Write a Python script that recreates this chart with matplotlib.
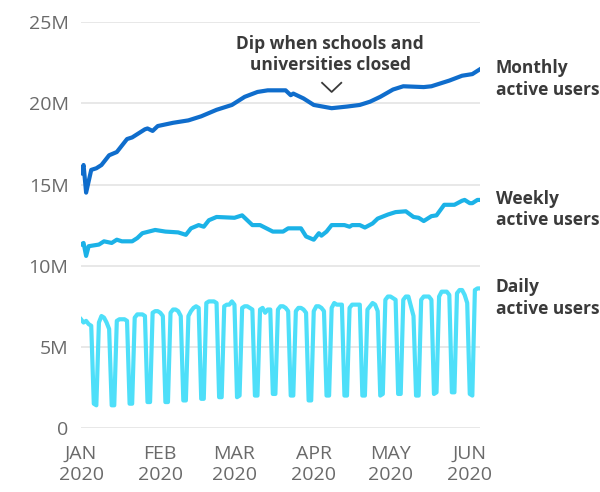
import matplotlib
matplotlib.use('Agg')
import matplotlib.pyplot as plt
import numpy as np
import pandas as pd

start = pd.Timestamp('2020-01-01')

# daily active users (millions), one row per week: 5 weekdays then weekend
daily_users = [
    6.7, 6.5, 6.6, 6.4, 6.3, 1.5, 1.4,
    6.5, 6.9, 6.8, 6.5, 6.1, 1.4, 1.4,
    6.6, 6.7, 6.7, 6.7, 6.6, 1.5, 1.5,
    6.8, 7.0, 7.0, 7.0, 6.9, 1.6, 1.6,
    7.1, 7.2, 7.2, 7.1, 6.9, 1.6, 1.6,
    7.1, 7.3, 7.3, 7.2, 6.9, 1.7, 1.7,
    6.9, 7.2, 7.4, 7.5, 7.4, 1.8, 1.8,
    7.7, 7.8, 7.8, 7.8, 7.7, 1.9, 1.9,
    7.5, 7.6, 7.6, 7.8, 7.6, 1.9, 2.0,
    7.4, 7.5, 7.5, 7.4, 7.3, 2.0, 2.0,
    7.3, 7.4, 7.1, 7.3, 7.3, 2.1, 2.1,
    7.3, 7.5, 7.5, 7.4, 7.2, 2.0, 2.0,
    7.2, 7.4, 7.4, 7.3, 7.1, 1.7, 1.7,
    7.2, 7.5, 7.5, 7.4, 7.2, 2.0, 2.0,
    7.4, 7.7, 7.6, 7.6, 7.6, 2.0, 2.0,
    7.4, 7.6, 7.6, 7.6, 7.6, 2.0, 2.0,
    7.3, 7.5, 7.7, 7.6, 7.2, 2.0, 2.1,
    7.9, 8.1, 8.1, 8.0, 7.9, 2.1, 2.1,
    7.9, 8.1, 8.1, 7.5, 6.9, 2.0, 2.0,
    7.9, 8.1, 8.1, 8.1, 7.9, 2.1, 2.2,
    8.1, 8.4, 8.4, 8.4, 8.2, 2.2, 2.2,
    8.3, 8.5, 8.5, 8.2, 7.7, 2.1, 2.0,
    8.5, 8.6, 8.6,
]

# weekly active users (millions) at day offsets from Jan 1
weekly_days = [0, 1, 2, 3, 7, 9, 12, 14, 16, 20, 22, 24, 29, 33, 38, 41, 43, 46, 48,
               50, 53, 60, 63, 67, 70, 75, 79, 81, 86, 88, 91, 93, 94, 96, 98, 103,
               105, 106, 109, 111, 114, 116, 120, 123, 127, 130, 132, 134, 137, 139,
               142, 146, 149, 150, 152, 153, 155, 156]
weekly_users = [11.3, 11.4, 10.6, 11.2, 11.3, 11.5, 11.4, 11.6, 11.5, 11.5, 11.7, 12.0,
                12.2, 12.1, 12.05, 11.9, 12.3, 12.5, 12.4, 12.8, 13.0, 12.95, 13.1,
                12.5, 12.5, 12.1, 12.1, 12.3, 12.3, 11.8, 11.6, 12.0, 11.85, 12.1,
                12.5, 12.5, 12.4, 12.5, 12.5, 12.35, 12.6, 12.9, 13.15, 13.3, 13.35,
                13.0, 12.95, 12.75, 13.05, 13.1, 13.75, 13.75, 14.0, 14.05, 13.85,
                13.85, 14.05, 14.05]

# monthly active users (millions) at day offsets from Jan 1
monthly_days = [0, 1, 2, 4, 6, 8, 11, 14, 18, 20, 25, 26, 28, 30, 36, 42, 47, 53, 59,
                64, 69, 73, 80, 82, 83, 87, 91, 98, 104, 109, 113, 117, 122, 126, 134,
                137, 144, 149, 153, 156]
monthly_users = [15.7, 16.2, 14.5, 15.9, 16.0, 16.2, 16.8, 17.0, 17.8, 17.9, 18.4,
                 18.45, 18.3, 18.6, 18.8, 18.95, 19.2, 19.6, 19.9, 20.4, 20.7, 20.8,
                 20.8, 20.5, 20.6, 20.3, 19.9, 19.7, 19.8, 19.9, 20.1, 20.4, 20.85,
                 21.05, 21.0, 21.05, 21.4, 21.7, 21.8, 22.1]

y_ticks = [0, 5, 10, 15, 20, 25]
y_labels = ['0', '5M', '10M', '15M', '20M', '25M']
month_starts = ['2020-01-01', '2020-02-01', '2020-03-01', '2020-04-01',
                '2020-05-01', '2020-06-01']
month_labels = ['JAN\n2020', 'FEB\n2020', 'MAR\n2020', 'APR\n2020',
                'MAY\n2020', 'JUN\n2020']

series_labels = ['Monthly\nactive users', 'Weekly\nactive users', 'Daily\nactive users']
note = 'Dip when schools and\nuniversities closed'

c_month = '#0F6DCC'
c_week = '#1BB2E7'
c_day = '#4EDFF9'
text_dark = '#3a3a3a'
text_grey = '#6a6a6a'

plt.rcParams['font.family'] = ['Open Sans', 'DejaVu Sans']

daily_dates = start + pd.to_timedelta(np.arange(len(daily_users)), unit='D')
weekly_dates = start + pd.to_timedelta(weekly_days, unit='D')
monthly_dates = start + pd.to_timedelta(monthly_days, unit='D')

fig = plt.figure(figsize=(6, 4.92), dpi=100)
ax = fig.add_axes([0.135, 0.13, 0.665, 0.825])

lw = 3.0
ax.plot(daily_dates, daily_users, color=c_day, lw=lw, solid_joinstyle='round')
ax.plot(weekly_dates, weekly_users, color=c_week, lw=lw, solid_joinstyle='round')
ax.plot(monthly_dates, monthly_users, color=c_month, lw=lw, solid_joinstyle='round')

ax.set_xlim(daily_dates[0], daily_dates[-1])
ax.set_ylim(0, 25)
ax.set_yticks(y_ticks)
ax.set_yticklabels(y_labels)
ax.set_xticks(pd.to_datetime(month_starts))
ax.set_xticklabels(month_labels)
ax.tick_params(axis='both', length=0, labelsize=14, colors=text_grey)
ax.tick_params(axis='y', pad=9)
ax.tick_params(axis='x', pad=12)
ax.grid(axis='y', color='#e6e6e6', lw=1.3)
ax.set_axisbelow(True)
for s in ax.spines.values():
    s.set_visible(False)

# right-hand series labels next to the line ends
trans = ax.get_yaxis_transform()
for vals, lab in zip([monthly_users, weekly_users, daily_users], series_labels):
    ax.text(1.04, vals[-1] - 0.6, lab, transform=trans, ha='left', va='center',
            fontsize=12.5, fontweight='bold', color=text_dark, linespacing=1.25)

# annotation over the spring dip in monthly users
late = [i for i, d in enumerate(monthly_days) if d >= 60]
i_dip = min(late, key=lambda i: monthly_users[i])
dip_date = monthly_dates[i_dip]
dip_val = monthly_users[i_dip]
half = pd.Timedelta(days=4)
ax.plot([dip_date - half, dip_date, dip_date + half],
        [dip_val + 1.6, dip_val + 1.0, dip_val + 1.6],
        color=text_dark, lw=1.3, solid_capstyle='butt')
ax.text(dip_date - pd.Timedelta(days=0.5), dip_val + 3.3, note, ha='center', va='center',
        fontsize=12.5, fontweight='bold', color=text_dark, linespacing=1.25)

fig.savefig('out.png', dpi=100)
